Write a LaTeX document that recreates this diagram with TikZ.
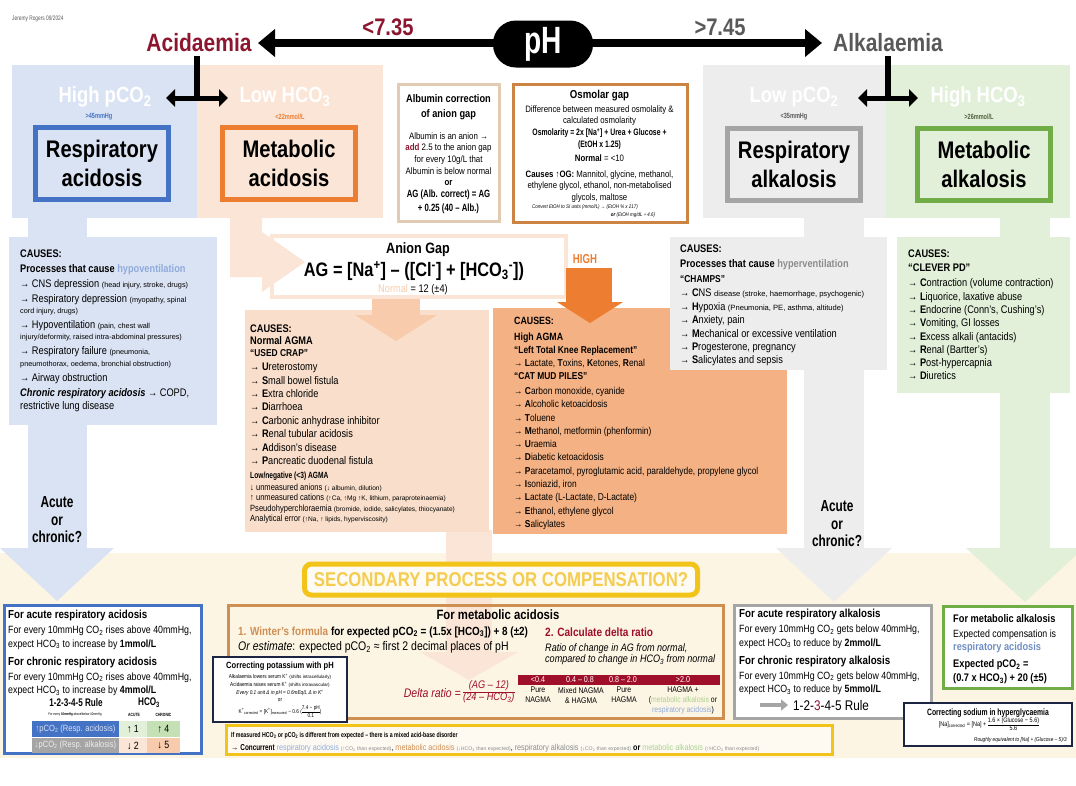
\documentclass[tikz,border=0pt]{standalone}
\usepackage{fontspec}
\setmainfont{Liberation Sans}[FakeStretch=0.84]
\newfontfamily\headfont{Liberation Sans}[FakeStretch=0.74]
\newfontfamily\widefont{Liberation Sans}
\usetikzlibrary{arrows.meta, positioning, shadows}

\definecolor{acidred}{HTML}{8C1630}
\definecolor{alkgray}{HTML}{595959}
\definecolor{respblue}{HTML}{4472C4}
\definecolor{respbg}{HTML}{DAE3F3}
\definecolor{hypoblue}{HTML}{8FAADC}
\definecolor{resplink}{HTML}{6F8FC4}
\definecolor{metorange}{HTML}{ED7D31}
\definecolor{metbg}{HTML}{FBE5D6}
\definecolor{peacharrow}{HTML}{F8CBAD}
\definecolor{normalagma}{HTML}{F9DFCB}
\definecolor{highagma}{HTML}{F4B183}
\definecolor{alkgraybd}{HTML}{A5A5A5}
\definecolor{alkbg}{HTML}{EDEDED}
\definecolor{hypergray}{HTML}{8C8C8C}
\definecolor{metgreen}{HTML}{70AD47}
\definecolor{greenbg}{HTML}{E2F0D9}
\definecolor{greenmid}{HTML}{C5E0B4}
\definecolor{greenlt}{HTML}{A9D18E}
\definecolor{greentxt}{HTML}{4F6140}
\definecolor{cream}{HTML}{FDF5E4}
\definecolor{compyellow}{HTML}{F2C318}
\definecolor{comptext}{HTML}{F4CC50}
\definecolor{navyframe}{HTML}{1C2541}
\definecolor{wintertan}{HTML}{CF8E52}
\definecolor{osmframe}{HTML}{CC8442}
\definecolor{albframe}{HTML}{E2CBB3}
\definecolor{deltared}{HTML}{A00F2A}

\newcommand{\fsz}[2]{\fontsize{#1}{#2}\selectfont}
\newcommand{\parenfont}[1][7.3]{\widefont\fontsize{#1}{9}\selectfont}
\newcommand{\dsub}[1]{\textsubscript{#1}}
\newcommand{\usup}[1]{\textsuperscript{#1}}
\newcommand{\mnem}[1]{\textbf{#1}}
\newcommand{\stackfrac}[2]{\begin{tabular}{@{}c@{}}#1\\\hline #2\end{tabular}}

\tikzset{
  panelhead/.style  = {text=white, inner sep=0pt,
                       font=\bfseries\fsz{22}{22}},
  panelrange/.style = {inner sep=0pt, font=\headfont\bfseries\fsz{7.5}{8}},
  kindbox/.style    = {draw=#1, line width=5pt, minimum width=133pt,
                       minimum height=72pt, align=center,
                       font=\bfseries\fsz{24}{29}},
  causes/.style     = {anchor=north west, align=left, inner sep=0pt,
                       font=\fsz{11}{15}},
  boxframe/.style   = {draw=#1, line width=3pt},
  rulecell/.style   = {inner sep=0pt, minimum height=16pt, font=\fsz{9}{9}},
  deltacol/.style   = {anchor=north, align=center, inner sep=0pt,
                       font=\fsz{8.2}{10}},
  bandtxt/.style    = {text=white, inner sep=0pt, font=\fsz{8.5}{9}},
  asking/.style     = {align=center, font=\headfont\bfseries\fsz{16}{17.5}},
  phaxis/.style     = {line width=8pt,
                       {Triangle[length=17pt,width=27pt]}-{Triangle[length=17pt,width=27pt]}},
  forkstem/.style   = {line width=6.5pt},
  forkarrow/.style  = {line width=5pt,
                       {Triangle[length=9pt,width=17pt]}-{Triangle[length=9pt,width=17pt]}},
}

\begin{document}
\begin{tikzpicture}[x=1pt, y=-1pt]
  \useasboundingbox (0,0) rectangle (1076,785);
  \fill[white] (0,0) rectangle (1076,785);
  \fill[cream] (0,553) rectangle (1076,758);

  % columns running down to the compensation boxes
  \fill[respbg] (28,218) rectangle (87,548);
  \fill[respbg] (0,548) -- (114,548) -- (57,601) -- cycle;
  \fill[alkbg] (804,218) rectangle (864,548);
  \fill[alkbg] (776,548) -- (892,548) -- (834,602) -- cycle;
  \fill[greenbg] (1000,218) rectangle (1050,548);
  \fill[greenbg] (966,548) -- (1084,548) -- (1025,602) -- cycle;
  \fill[metbg] (446,530) rectangle (492,652);
  \fill[metbg] (420,652) -- (518,652) -- (469,680) -- cycle;

  % the four kinds of disorder
  \fill[respbg] (12,65) rectangle (197,218);
  \fill[metbg] (197,65) rectangle (383,218);
  \fill[alkbg] (703,65) rectangle (886,218);
  \fill[greenbg] (886,65) rectangle (1070,218);

  \node[panelhead] (highpco2) at (105,97) {High pCO\dsub{2}};
  \node[panelrange, text=respblue] (rangeresp) at (99,117) {>45mmHg};
  \node[kindbox=respblue, fill=respbg] (respacid) at (102,163.5) {Respiratory\\acidosis};
  \node[panelhead] (lowhco3) at (285,97) {Low HCO\dsub{3}};
  \node[panelrange, text=metorange] (rangemet) at (290,117) {<22mmol/L};
  \node[kindbox=metorange, fill=metbg] (metacid) at (289,163.5) {Metabolic\\acidosis};
  \node[panelhead] (lowpco2) at (794,97) {Low pCO\dsub{2}};
  \node[panelrange, text=alkgray] (rangealk) at (794,117) {<35mmHg};
  \node[kindbox=alkgraybd, fill=alkbg] (respalk) at (794,164) {Respiratory\\alkalosis};
  \node[panelhead] (highhco3) at (978,97) {High HCO\dsub{3}};
  \node[panelrange, text=greentxt] (rangegreen) at (979,117) {>26mmol/L};
  \node[kindbox=metgreen, fill=greenbg] (metalk) at (984,164) {Metabolic\\alkalosis};

  % pH axis
  \node[anchor=west, inner sep=0pt, text=alkgray, font=\headfont\fsz{6.5}{7}] (author) at (12,19) {Jeremy Rogers 09/2024};
  \node[text=acidred, font=\bfseries\fsz{25}{25}, inner sep=4pt] (acid) at (199,43) {Acidaemia};
  \node[text=alkgray, font=\bfseries\fsz{25}{25}, inner sep=4pt] (alk) at (888,43) {Alkalaemia};
  \node[text=acidred, font=\bfseries\fsz{24}{24}] (lowph) at (388,27) {<7.35};
  \node[text=alkgray, font=\bfseries\fsz{24}{24}] (highph) at (720,27) {>7.45};
  \coordinate (axisleft) at (258,43);
  \coordinate (axisright) at (822,43);
  \draw[phaxis] (axisleft) -- (axisright);
  \node[fill=black, rounded corners=23pt, minimum width=100pt, minimum height=47pt,
        text=white, font=\headfont\bfseries\fsz{38}{38}] (ph) at (543,44) {pH};
  \coordinate (acidfork) at (197,98);
  \coordinate (alkfork) at (888,98);
  \draw[forkstem] (acidfork |- acid.south) -- ([yshift=-2pt]acidfork);
  \draw[forkarrow] ([xshift=-31pt]acidfork) -- ([xshift=31pt]acidfork);
  \draw[forkstem] (alkfork |- alk.south) -- ([yshift=-2pt]alkfork);
  \draw[forkarrow] ([xshift=-30pt]alkfork) -- ([xshift=30pt]alkfork);

  % albumin and osmolar gap
  \draw[boxframe=albframe, fill=white, drop shadow={shadow xshift=1.5pt, shadow yshift=-1.5pt, opacity=0.3}] (398,84) rectangle (499,221);
  \node[anchor=north, align=center, inner sep=0pt, font=\fsz{9.4}{11.7}] (albtext) at (448.5,94) {%
    {\bfseries\fsz{11}{15}Albumin correction}\\[3.3pt]
    {\bfseries\fsz{11}{15}of anion gap}\\[10.3pt]
    Albumin is an anion →\\
    {\bfseries\color{acidred}add} 2.5 to the anion gap\\
    for every 10g/L that\\
    Albumin is below normal\\
    {\bfseries or}\\[0.3pt]
    {\headfont\bfseries\fsz{10.5}{13}AG (Alb. correct) = AG}\\[2.3pt]
    {\headfont\bfseries\fsz{10.5}{13}+ 0.25 (40 – Alb.)}};
  \draw[boxframe=osmframe, fill=white, drop shadow={shadow xshift=1.5pt, shadow yshift=-1.5pt, opacity=0.3}] (513,84) rectangle (687,222);
  \node[anchor=north, align=center, inner sep=0pt, font=\fsz{9.3}{11.3}] (osmtext) at (599.5,90) {%
    {\bfseries\fsz{11.5}{13}Osmolar gap}\\[2.7pt]
    Difference between measured osmolality \&\\
    calculated osmolarity\\[0.7pt]
    {\headfont\bfseries Osmolarity = 2x [Na\usup{+}] + Urea + Glucose +}\\
    {\headfont\bfseries (EtOH x 1.25)}\\[2.7pt]
    {\bfseries Normal} = <10\\[4.7pt]
    {\bfseries Causes ↑OG:} Mannitol, glycine, methanol,\\
    ethylene glycol, ethanol, non-metabolised\\[0.7pt]
    glycols, maltose};
  \node[inner sep=0pt, font=\itshape\fsz{5.3}{6}] (osmconvert) at (585,207) {Convert EtOH to SI units (mmol/L) → (EtOH \% x 217)};
  \node[inner sep=0pt, font=\itshape\fsz{5.3}{6}] (osmconvert2) at (633,215) {{\bfseries or} (EtOH mg/dL ÷ 4.6)};

  % causes panels
  \fill[respbg] (9,237) rectangle (217,425);
  \fill[normalagma] (245,310) rectangle (489,532);
  \fill[peacharrow] (372,293) rectangle (420,316);
  \fill[peacharrow] (355,315) -- (437,315) -- (396,341) -- cycle;
  \fill[highagma] (493,308) rectangle (787,534);
  \fill[alkbg] (670,237) rectangle (887,370);
  \fill[greenbg] (897,237) rectangle (1070,393);

  % anion gap
  \draw[draw=metbg, line width=4pt, fill=white] (272,236) rectangle (566,297);
  \fill[metbg] (230,218) -- (262,218) -- (262,232) -- (305,262) -- (262,292) -- (262,277) -- (230,277) -- cycle;
  \node[font=\bfseries\fsz{15}{15}] (agtitle) at (418,250) {Anion Gap};
  \node[font=\bfseries\fsz{19.5}{20}] (agformula) at (414,271) {AG = [Na\usup{+}] – ([Cl\usup{-}] + [HCO\dsub{3}\usup{-}])};
  \node[font=\fsz{11}{11}] (agnormal) at (413,290) {\textcolor{peacharrow}{Normal} = 12 (±4)};
  \node[text=metorange, font=\headfont\bfseries\fsz{13}{13}] (highlbl) at (585,259) {HIGH};
  \fill[metorange] (566,268) rectangle (612,303);
  \fill[metorange] (557,302) -- (623,302) -- (590,323) -- cycle;

  \node[causes] (hypocauses) at (20,250) {%
    {\bfseries CAUSES:}\\
    {\bfseries Processes that cause \textcolor{hypoblue}{hypoventilation}}\\
    → CNS depression {\parenfont(head injury, stroke, drugs)}\\
    → Respiratory depression {\parenfont(myopathy, spinal}\\[-4pt]
    {\parenfont cord injury, drugs)}\\
    → Hypoventilation {\parenfont(pain, chest wall}\\[-4pt]
    {\parenfont injury/deformity, raised intra-abdominal pressures)}\\
    → Respiratory failure {\parenfont(pneumonia,}\\[-3pt]
    {\parenfont pneumothorax, oedema, bronchial obstruction)}\\
    → Airway obstruction\\
    {\bfseries\itshape Chronic respiratory acidosis} → COPD,\\[-2pt]
    restrictive lung disease};

  \node[causes, font=\bfseries\fsz{11}{12}] (normhead) at (250,325) {%
    CAUSES:\\
    Normal AGMA\\
    {\fsz{10}{12}“USED CRAP”}};
  \node[causes, font=\fsz{11}{13.4}] (normlist) at (250,363) {%
    → \mnem{U}reterostomy\\
    → \mnem{S}mall bowel fistula\\
    → \mnem{E}xtra chloride\\
    → \mnem{D}iarrhoea\\
    → \mnem{C}arbonic anhydrase inhibitor\\
    → \mnem{R}enal tubular acidosis\\
    → \mnem{A}ddison’s disease\\
    → \mnem{P}ancreatic duodenal fistula};
  \node[causes, font=\fsz{9}{10.2}] (lowagma) at (250,472) {%
    {\headfont\bfseries Low/negative (<3) AGMA}\\[1.8pt]
    ↓ unmeasured anions {\parenfont[6.6](↓ albumin, dilution)}\\
    ↑ unmeasured cations {\parenfont[6.6](↑Ca, ↑Mg ↑K, lithium, paraproteinaemia)}\\
    Pseudohyperchloraemia {\parenfont[6.6](bromide, iodide, salicylates, thiocyanate)}\\
    Analytical error {\parenfont[6.6](↑Na, ↑ lipids, hyperviscosity)}};

  \node[causes, font=\bfseries\fsz{10.5}{13}] (highhead) at (514,317) {%
    CAUSES:\\[3pt]
    High AGMA\\
    {\fsz{10}{13}“Left Total Knee Replacement”}\\
    {\mdseries\fsz{10}{13}→ \mnem{L}actate, \mnem{T}oxins, \mnem{K}etones, \mnem{R}enal}\\
    {\fsz{10}{13}“CAT MUD PILES”}};
  \node[causes, font=\fsz{10}{13.3}] (highlist) at (514,387) {%
    → \mnem{C}arbon monoxide, cyanide\\
    → \mnem{A}lcoholic ketoacidosis\\
    → \mnem{T}oluene\\
    → \mnem{M}ethanol, metformin (phenformin)\\
    → \mnem{U}raemia\\
    → \mnem{D}iabetic ketoacidosis\\
    → \mnem{P}aracetamol, pyroglutamic acid, paraldehyde, propylene glycol\\
    → \mnem{I}soniazid, iron\\
    → \mnem{L}actate (L-Lactate, D-Lactate)\\
    → \mnem{E}thanol, ethylene glycol\\
    → \mnem{S}alicylates};

  \node[causes, font=\fsz{11}{13.4}] (hypercauses) at (680,245) {%
    {\bfseries CAUSES:}\\[1.6pt]
    {\bfseries Processes that cause \textcolor{hypergray}{hyperventilation}}\\[1.6pt]
    {\bfseries\fsz{10}{13}“CHAMPS”}\\[0.6pt]
    → \mnem{C}NS {\parenfont[7.6]disease (stroke, haemorrhage, psychogenic)}\\
    → \mnem{H}ypoxia {\parenfont[7.6](Pneumonia, PE, asthma, altitude)}\\
    → \mnem{A}nxiety, pain\\
    → \mnem{M}echanical or excessive ventilation\\
    → \mnem{P}rogesterone, pregnancy\\
    → \mnem{S}alicylates and sepsis};

  \node[causes, font=\fsz{11}{13.3}] (clevercauses) at (908,250) {%
    {\bfseries CAUSES:}\\[0.7pt]
    {\bfseries “CLEVER PD”}\\[1.7pt]
    → \mnem{C}ontraction (volume contraction)\\
    → \mnem{L}iquorice, laxative abuse\\
    → \mnem{E}ndocrine (Conn’s, Cushing’s)\\
    → \mnem{V}omiting, GI losses\\
    → \mnem{E}xcess alkali (antacids)\\
    → \mnem{R}enal (Bartter’s)\\
    → \mnem{P}ost-hypercapnia\\
    → \mnem{D}iuretics};

  \node[asking] (askleft) at (57,520) {Acute\\or\\chronic?};
  \node[asking] (askright) at (837,524) {Acute\\or\\chronic?};

  % compensation
  \node[draw=compyellow, line width=5pt, rounded corners=7pt, fill=cream!40!white,
        minimum width=393pt, minimum height=31pt, text=comptext,
        font=\bfseries\fsz{20}{20}] (secondary) at (501,579.5) {SECONDARY PROCESS OR COMPENSATION?};

  % respiratory acidosis
  \draw[boxframe=respblue, fill=white] (4,605) rectangle (201,753);
  \node[causes, font=\fsz{10.5}{13.5}] (respacidcomp) at (8,610) {%
    {\bfseries\fsz{11.6}{12}For acute respiratory acidosis}\\[1.5pt]
    For every 10mmHg CO\dsub{2} rises above 40mmHg,\\
    expect HCO\dsub{3} to increase by {\bfseries 1mmol/L}\\[4.5pt]
    {\bfseries\fsz{11.6}{12}For chronic respiratory acidosis}\\[1.5pt]
    For every 10mmHg CO\dsub{2} rises above 40mmHg,\\
    expect HCO\dsub{3} to increase by {\bfseries 4mmol/L}};
  \node[font=\headfont\bfseries\fsz{11}{11}] (ruletitle) at (76,703) {1-2-3-4-5 Rule};
  \node[font=\headfont\bfseries\fsz{11}{11}] (rulehco3) at (149,703) {HCO\dsub{3}};
  \node[inner sep=0pt, font=\headfont\fsz{3.8}{4}] (rulenote) at (75,715) {For every {\bfseries 10mmHg} above/below 40mmHg};
  \node[inner sep=0pt, font=\headfont\bfseries\fsz{4.6}{5}] (ruleacute) at (134,715) {ACUTE};
  \node[inner sep=0pt, font=\headfont\bfseries\fsz{4.6}{5}] (rulechronic) at (163.5,715) {CHRONIC};
  \node[rulecell, fill=respblue, text=respbg, minimum width=87pt] (rowacid) at (75.5,729) {↑pCO\dsub{2} (Resp. acidosis)};
  \node[rulecell, fill=greenbg, minimum width=28pt, font=\fsz{10.5}{10}] (acuteup) at (133,729) {↑ 1};
  \node[rulecell, fill=greenmid, minimum width=33pt, font=\fsz{10.5}{10}] (chronicup) at (163.5,729) {↑ 4};
  \node[rulecell, fill=alkgraybd, text=alkbg, minimum width=87pt, minimum height=15pt] (rowalk) at (75.5,745.5) {↓pCO\dsub{2} (Resp. alkalosis)};
  \node[rulecell, fill=metbg, minimum width=28pt, minimum height=15pt, font=\fsz{10.5}{10}] (acutedown) at (133,745.5) {↓ 2};
  \node[rulecell, fill=peacharrow, minimum width=33pt, minimum height=15pt, font=\fsz{10.5}{10}] (chronicdown) at (163.5,745.5) {↓ 5};

  % metabolic acidosis
  \draw[boxframe=wintertan] (228,605) rectangle (723,718);
  \node[font=\bfseries\fsz{13.5}{13}] (metacidtitle) at (498,615) {For metabolic acidosis};
  \node[anchor=west, inner sep=0pt, font=\bfseries\fsz{11.8}{12}] (winter) at (238,632) {\textcolor{wintertan}{1. Winter’s formula} for expected pCO\dsub{2} = (1.5x [HCO\dsub{3}]) + 8 (±2)};
  \node[anchor=west, inner sep=0pt, font=\fsz{12.5}{12}] (estimate) at (238,647) {\textit{Or estimate}: expected pCO\dsub{2} ≈ first 2 decimal places of pH};
  \node[anchor=west, inner sep=0pt, text=deltared, font=\bfseries\fsz{12}{12}] (deltahead) at (545,632) {2. Calculate delta ratio};
  \node[anchor=north west, align=left, inner sep=0pt, font=\itshape\fsz{10.8}{11.5}] (deltadef) at (545,643) {Ratio of change in AG from normal,\\compared to change in HCO\dsub{3} from normal};
  \node[anchor=east, inner sep=1pt, text=deltared, font=\itshape\fsz{12.5}{13}] (deltaeq) at (462,693) {Delta ratio =};
  \node[anchor=west, inner sep=0pt, text=deltared, font=\itshape\fsz{11}{12}] (deltafrac) at (463,692) {\stackfrac{(AG – 12)}{(24 – HCO\dsub{3})}};
  \fill[deltared] (518,675) rectangle (720,685);
  \foreach \x/\t [count=\i] in {538/{<0.4}, 580/{0.4 – 0.8}, 623/{0.8 – 2.0}, 683/{>2.0}}
    \node[bandtxt] (band\i) at (\x,680) {\t};
  \node[deltacol] (dcol1) at (538,687) {Pure\\NAGMA};
  \node[deltacol] (dcol2) at (581,687) {Mixed NAGMA\\\& HAGMA};
  \node[deltacol] (dcol3) at (624,687) {Pure\\HAGMA};
  \node[deltacol] (dcol4) at (683,687) {HAGMA +\\(\textcolor{greenlt}{metabolic alkalosis} or\\\textcolor{hypoblue}{respiratory acidosis})};

  % potassium
  \draw[boxframe=navyframe, line width=2.5pt, fill=white] (213,657) rectangle (347,722);
  \node[anchor=north, align=center, inner sep=0pt, font=\fsz{5.6}{8}] (ktext) at (280,662) {%
    {\bfseries\fsz{9}{10}Correcting potassium with pH}\\[2pt]
    Alkalaemia lowers serum K\usup{+} {\parenfont[4.6](shifts intracellularly)}\\
    Acidaemia raises serum K\usup{+} {\parenfont[4.6](shifts intravascular)}\\
    \textit{Every 0.1 unit Δ in pH ≈ 0.6mEq/L Δ in K\usup{+}}\\[-1pt]
    or\\[1pt]
    K\usup{+}\dsub{corrected} = [K\usup{+}]\dsub{measured} − 0.6 (\stackfrac{7.4 − pH}{0.1})};

  % mixed disorder
  \draw[boxframe=compyellow, fill=cream!50!white] (226,725) rectangle (832,754);
  \node[anchor=west, inner sep=0pt, font=\headfont\bfseries\fsz{7.1}{8}] (mixedhead) at (231,736) {If measured HCO\dsub{3} or pCO\dsub{2} is different from expected – there is a mixed acid-base disorder};
  \node[anchor=west, inner sep=0pt, font=\fsz{8.6}{8}] (mixedlist) at (231,748) {→ {\headfont\bfseries Concurrent} \textcolor{hypoblue}{respiratory acidosis} {\parenfont[5.2]\color{hypergray}(↑CO\dsub{2} than expected)}, \textcolor{wintertan}{metabolic acidosis} {\parenfont[5.2]\color{hypergray}(↓HCO\dsub{3} than expected)}, \textcolor{hypergray}{respiratory alkalosis} {\parenfont[5.2]\color{hypergray}(↓CO\dsub{2} than expected)} {\bfseries or} \textcolor{greenlt}{metabolic alkalosis} {\parenfont[5.2]\color{hypergray}(↑HCO\dsub{3} than expected)}};

  % respiratory alkalosis
  \draw[boxframe=alkgraybd, fill=white] (734,605) rectangle (931,718);
  \node[causes, font=\fsz{10.5}{13.5}] (respalkcomp) at (739,609) {%
    {\bfseries\fsz{11.6}{12}For acute respiratory alkalosis}\\[1.5pt]
    For every 10mmHg CO\dsub{2} gets below 40mmHg,\\
    expect HCO\dsub{3} to reduce by {\bfseries 2mmol/L}\\[4.5pt]
    {\bfseries\fsz{11.6}{12}For chronic respiratory alkalosis}\\[1.5pt]
    For every 10mmHg CO\dsub{2} gets below 40mmHg,\\
    expect HCO\dsub{3} to reduce by {\bfseries 5mmol/L}};
  \coordinate (ruletail) at (760,705);
  \node[anchor=west, inner sep=0pt, font=\fsz{14}{14}] (ruletext) at (793,705) {1-2-\textcolor{acidred}{3}-4-5 Rule};
  \draw[line width=4pt, alkgraybd, -{Triangle[length=7pt,width=11pt]}] (ruletail) -- ([xshift=-5pt]ruletext.west);

  % metabolic alkalosis
  \draw[boxframe=metgreen, fill=white] (943,606) rectangle (1072,688);
  \node[causes, font=\fsz{10.5}{13.5}] (metalkcomp) at (953,614) {%
    {\bfseries\fsz{11}{12}For metabolic alkalosis}\\[1.5pt]
    Expected compensation is\\
    {\bfseries\fsz{11}{12}\color{resplink}respiratory acidosis}\\[3.5pt]
    {\bfseries\fsz{11}{12}Expected pCO\dsub{2} =}\\[0.5pt]
    {\bfseries\fsz{11}{12}(0.7 x HCO\dsub{3}) + 20 (±5)}};

  % sodium
  \draw[boxframe=navyframe, line width=2.5pt, fill=white] (904,703) rectangle (1072,746);
  \node[font=\headfont\bfseries\fsz{9.2}{10}] (natitle) at (988,713) {Correcting sodium in hyperglycaemia};
  \node[font=\fsz{6.5}{7}] (naformula) at (989,725) {[Na]\dsub{corrected} = [Na] + \stackfrac{1.6 × (Glucose − 5.6)}{5.6}};
  \node[anchor=east, inner sep=0pt, font=\itshape\fsz{5.6}{6}] (naapprox) at (1067,740) {Roughly equivalent to [Na] + (Glucose – 5)/3};
\end{tikzpicture}
\end{document}
